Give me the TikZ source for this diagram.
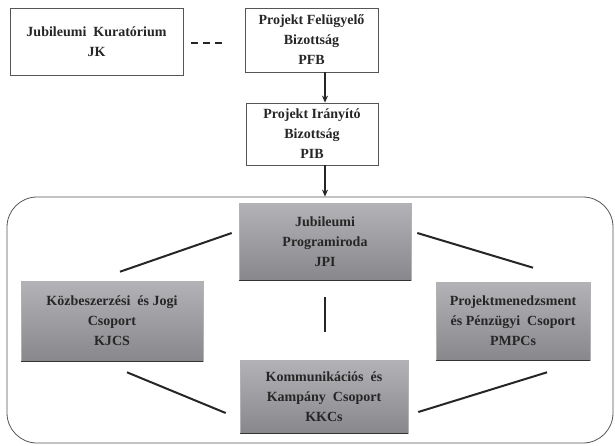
\documentclass[tikz,border=0pt]{standalone}
\usepackage{fontspec}
\setmainfont{Liberation Serif}
\usetikzlibrary{calc,arrows.meta}
\definecolor{txt}{HTML}{262626}
\definecolor{gtop}{HTML}{B3B3B7}
\definecolor{gbot}{HTML}{88888C}
\definecolor{bord}{HTML}{555555}
\begin{document}
\begin{tikzpicture}[x=1pt,y=-1pt,
  every node/.style={font=\fontsize{14}{20}\selectfont\bfseries, text=txt, align=center, inner sep=0pt},
  wbox/.style={draw=bord, line width=0.8pt, fill=white},
  gbox/.style={draw=gray!60, line width=0.6pt, top color=gtop, bottom color=gbot},
  link/.style={draw=black!85, line width=2pt},
  arr/.style={draw=black!85, line width=1.4pt, -{Stealth[length=7pt,width=6pt]}}
]
\useasboundingbox (0,0) rectangle (615,445);
\node[draw=bord, line width=0.8pt, rounded corners=30pt, minimum width=606pt, minimum height=246pt] (grp) at (310,320) {};
\node[wbox, minimum width=173pt, minimum height=67pt] (JK) at (96.5,41.5) {Jubileumi\ \ Kuratórium\\JK};
\node[wbox, minimum width=133pt, minimum height=64pt] (PFB) at (311.5,40) {Projekt Felügyelő\\Bizottság\\PFB};
\node[wbox, minimum width=132pt, minimum height=62pt] (PIB) at (312,134) {Projekt Irányító\\Bizottság\\PIB};
\node[gbox, minimum width=172pt, minimum height=77pt] (JPI) at (325,241.5) {Jubileumi\\Programiroda\\JPI};
\node[gbox, minimum width=182pt, minimum height=80pt] (KJCS) at (112,321) {Közbeszerzési\ \ és Jogi\\Csoport\\KJCS};
\node[gbox, minimum width=154pt, minimum height=78pt] (PMPC) at (513,321) {Projektmenedzsment\\és Pénzügyi\ \ Csoport\\PMPCs};
\node[gbox, minimum width=168pt, minimum height=73pt] (KKC) at (324,396.5) {Kommunikációs\ \ és\\Kampány\ \ Csoport\\KKCs};
% dark bottom edges
\foreach \n in {JPI,KJCS,PMPC,KKC}{\draw[gray!40!black, line width=1pt] (\n.south west) -- (\n.south east);}
% connectors
\draw[draw=black!85, line width=2pt, dash pattern=on 7pt off 5pt] ($(JK.east)+(8,1.5)$) -- ($(PFB.west)+(-21,3)$);
\draw[arr] (PFB.south -| JPI.north) -- (PIB.north -| JPI.north);
\draw[arr] (PIB.south -| JPI.north) -- (grp.north -| JPI.north);
\draw[link] ($(JPI.west)+(-7,-8.5)$) -- ($(KJCS.north)+(8,-9)$);
\draw[link] ($(JPI.east)+(6,-8.5)$) -- ($(PMPC.north)+(20,-14)$);
\draw[link] ($(JPI.south)+(0,17)$) -- ($(KKC.north)+(1,-28)$);
\draw[link] ($(KJCS.south)+(15,11)$) -- ($(KKC.west)+(-14,16.5)$);
\draw[link] ($(PMPC.south)+(34,12)$) -- ($(KKC.east)+(10,15.5)$);
\end{tikzpicture}
\end{document}
